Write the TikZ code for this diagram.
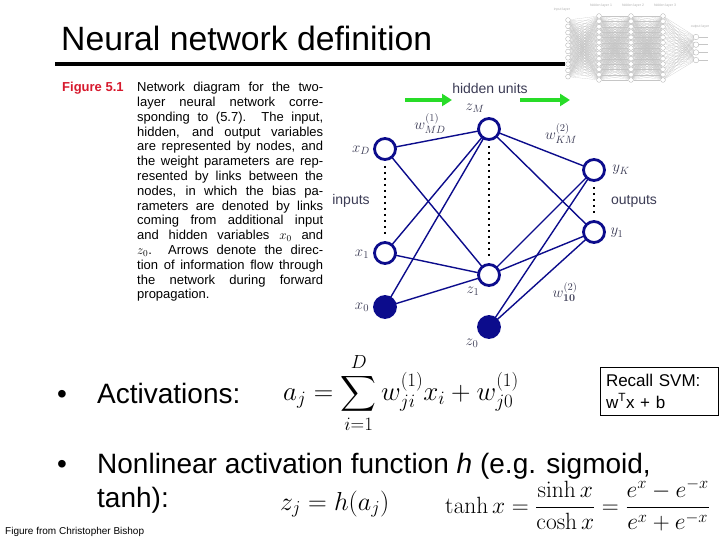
\RequirePackage{fix-cm}
\documentclass[tikz,border=0pt]{standalone}
\usepackage{exscale}
\usepackage[no-math]{fontspec}
\setmainfont{Liberation Sans}
\usetikzlibrary{arrows.meta}

\definecolor{netblue}{RGB}{12,12,140}
\definecolor{flowgreen}{RGB}{40,220,40}
\definecolor{figred}{RGB}{215,25,45}
\definecolor{lblgray}{RGB}{60,60,85}

\tikzset{
  unit/.style={circle, draw=netblue, fill=white, line width=2.8pt,
    minimum size=21pt, inner sep=0pt},
  biasunit/.style={unit, fill=netblue},
  link/.style={netblue, line width=1.4pt},
  dotline/.style={black, line width=2.5pt, dash pattern=on 2.5pt off 3.5pt,
    shorten <=5pt, shorten >=5pt},
  lbl/.style={text=lblgray, inner sep=0pt, font=\fontsize{15}{17}\selectfont},
  flow/.style={flowgreen, line width=4pt, -{Triangle[length=10pt,width=12pt]}},
  bigtext/.style={anchor=base west, inner sep=0pt, font=\fontsize{28}{32}\selectfont},
  thumbunit/.style={circle, draw=gray!60, fill=white, line width=0.35pt,
    minimum size=4.8pt, inner sep=0pt},
  thumblink/.style={gray!45, line width=0.15pt},
  svmbox/.style={draw, line width=1pt, minimum width=118pt, minimum height=48pt,
    text width=106pt, align=left, inner sep=5pt,
    font=\fontsize{17}{22}\selectfont},
}

\begin{document}
\begin{tikzpicture}[x=1pt, y=-1pt]
  \useasboundingbox [fill=white] (0, 0) rectangle (720, 540);

  % Thumbnail (deep network)
  \foreach \i in {1,...,10}
    \node [thumbunit] (tin\i) at (568, 20 + 6.3*\i - 6.3) {};
  \foreach \c/\x in {a/599, b/631, c/663}
    \foreach \i in {1,...,13}
      \node [thumbunit] (th\c\i) at (\x, 16 + 5.33*\i - 5.33) {};
  \foreach \i in {1,...,4}
    \node [thumbunit, minimum size=5.5pt] (tout\i) at (696, 37 + 7.7*\i - 7.7) {};
  \foreach \i in {1,...,10}
    \foreach \j in {1,...,13}
      \draw [thumblink] (tin\i) -- (tha\j);
  \foreach \i in {1,...,13}
    \foreach \j in {1,...,13} {
      \draw [thumblink] (tha\i) -- (thb\j);
      \draw [thumblink] (thb\i) -- (thc\j);
    }
  \foreach \i in {1,...,13}
    \foreach \j in {1,...,4}
      \draw [thumblink] (thc\i) -- (tout\j);
  \foreach \i in {1,...,4}
    \draw [thumblink, line width=0.4pt] (tout\i) -- ++(12, 0);
  \begin{scope}[every node/.style={text=gray!60, font=\fontsize{3.5}{4}\selectfont}]
    \node (tl1) at (562, 10) {input layer};
    \node (tl2) at (601, 6) {hidden layer 1};
    \node (tl3) at (633, 6) {hidden layer 2};
    \node (tl4) at (665, 6) {hidden layer 3};
    \node (tl5) at (700, 27) {output layer};
  \end{scope}

  % Title
  \node [anchor=base west, inner sep=0pt, font=\fontsize{33.7}{38}\selectfont]
    (title) at (61, 51) {Neural network definition};
  \draw [line width=4pt] (55, 64) -- (565, 64);

  % Caption
  \node [anchor=base west, inner sep=0pt, text=figred,
    font=\bfseries\fontsize{13}{14.8}\selectfont] (fig) at (62, 91.5) {Figure 5.1};
  \node [anchor=north west, inner sep=0pt, text width=186pt, align=justify,
    font=\fontsize{13}{14.8}\selectfont] (caption) at (137, 82)
    {\hyphenpenalty=10000 Network diagram for the two-\linebreak
     layer neural network corre-\linebreak
     sponding to (5.7).\ \ The input,\linebreak
     hidden, and output variables\linebreak
     are represented by nodes, and\linebreak
     the weight parameters are rep-\linebreak
     resented by links between the\linebreak
     nodes, in which the bias pa-\linebreak
     rameters are denoted by links\linebreak
     coming from additional input\linebreak
     and hidden variables $x_0$ and\linebreak
     $z_0$.\ \ Arrows denote the direc-\linebreak
     tion of information flow through\linebreak
     the network during forward\linebreak
     propagation.};

  % Network links
  \coordinate (cxD) at (385, 149);
  \coordinate (cx1) at (385, 253);
  \coordinate (cx0) at (385, 307);
  \coordinate (czM) at (489, 129);
  \coordinate (cz1) at (489, 275);
  \coordinate (cz0) at (489, 327);
  \coordinate (cyK) at (594, 170);
  \coordinate (cy1) at (594, 232);
  \foreach \a in {xD, x1, x0}
    \foreach \b in {zM, z1}
      \draw [link] (c\a) -- (c\b);
  \foreach \a in {zM, z1, z0}
    \foreach \b in {yK, y1}
      \draw [link] (c\a) -- (c\b);

  % Network units
  \node [unit] (xD) at (cxD) {};
  \node [unit] (x1) at (cx1) {};
  \node [biasunit] (x0) at (cx0) {};
  \node [unit] (zM) at (czM) {};
  \node [unit] (z1) at (cz1) {};
  \node [biasunit] (z0) at (cz0) {};
  \node [unit] (yK) at (cyK) {};
  \node [unit] (y1) at (cy1) {};

  \draw [dotline] (xD) -- (x1);
  \draw [dotline] (zM) -- (z1);
  \draw [dotline] (yK) -- (y1);

  % Labels
  \node [lbl] (lxD) at (361, 150) {$x_D$};
  \node [lbl] (lx1) at (362, 254) {$x_1$};
  \node [lbl] (lx0) at (362, 307) {$x_0$};
  \node [lbl] (lzM) at (475, 108) {$z_M$};
  \node [lbl] (lz1) at (473, 291) {$z_1$};
  \node [lbl] (lz0) at (472, 343) {$z_0$};
  \node [lbl] (lyK) at (621, 170) {$y_K$};
  \node [lbl] (ly1) at (617, 233) {$y_1$};
  \node [lbl] (wMD) at (430, 124) {$w^{(1)}_{MD}$};
  \node [lbl] (wKM) at (561, 134) {$w^{(2)}_{KM}$};
  \node [lbl] (w10) at (565, 292) {$w^{(2)}_{\mathbf{10}}$};
  \node [lbl, font=\fontsize{14}{16}\selectfont] (inputs) at (351, 201) {inputs};
  \node [lbl, font=\fontsize{14}{16}\selectfont] (outputs) at (634, 201) {outputs};
  \node [lbl, font=\fontsize{14}{16}\selectfont] (hidden) at (490, 88) {hidden units};

  % Flow arrows
  \coordinate (f1a) at (405, 100);
  \coordinate (f1b) at (452, 100);
  \coordinate (f2a) at (520, 100);
  \coordinate (f2b) at (570, 100);
  \draw [flow] (f1a) -- (f1b);
  \draw [flow] (f2a) -- (f2b);

  % Bullets
  \node [bigtext] (dot1) at (57, 403) {\textbullet};
  \node [bigtext] (act) at (97, 403) {Activations:};
  \node [bigtext] (dot2) at (57, 473) {\textbullet};
  \node [bigtext] (nonlin) at (97, 473) {Nonlinear activation function \textit{h} (e.g. sigmoid,};
  \node [bigtext] (tanhtxt) at (97, 507) {tanh):};

  % Equations
  \node [anchor=west, inner sep=0pt, font=\fontsize{27}{31}\selectfont] (aeq)
    at (283, 393) {$\displaystyle a_j = \sum_{i=1}^{D} w^{(1)}_{ji} x_i + w^{(1)}_{j0}$};
  \node [anchor=west, inner sep=0pt, font=\fontsize{26}{30}\selectfont] (zeq)
    at (280, 504) {$z_j = h(a_j)$};
  \node [anchor=west, inner sep=0pt, font=\fontsize{23.5}{28}\selectfont] (teq)
    at (445, 505) {$\displaystyle \tanh x = \frac{\sinh x}{\cosh x}
      = \frac{e^x - e^{-x}}{e^x + e^{-x}}$};

  % Recall box
  \node [svmbox] (svm) at (659, 391) {Recall SVM:\\w\textsuperscript{T}x + b};

  % Credit
  \node [anchor=base west, inner sep=0pt, font=\fontsize{10}{12}\selectfont]
    (credit) at (5, 534) {Figure from Christopher Bishop};
\end{tikzpicture}
\end{document}
